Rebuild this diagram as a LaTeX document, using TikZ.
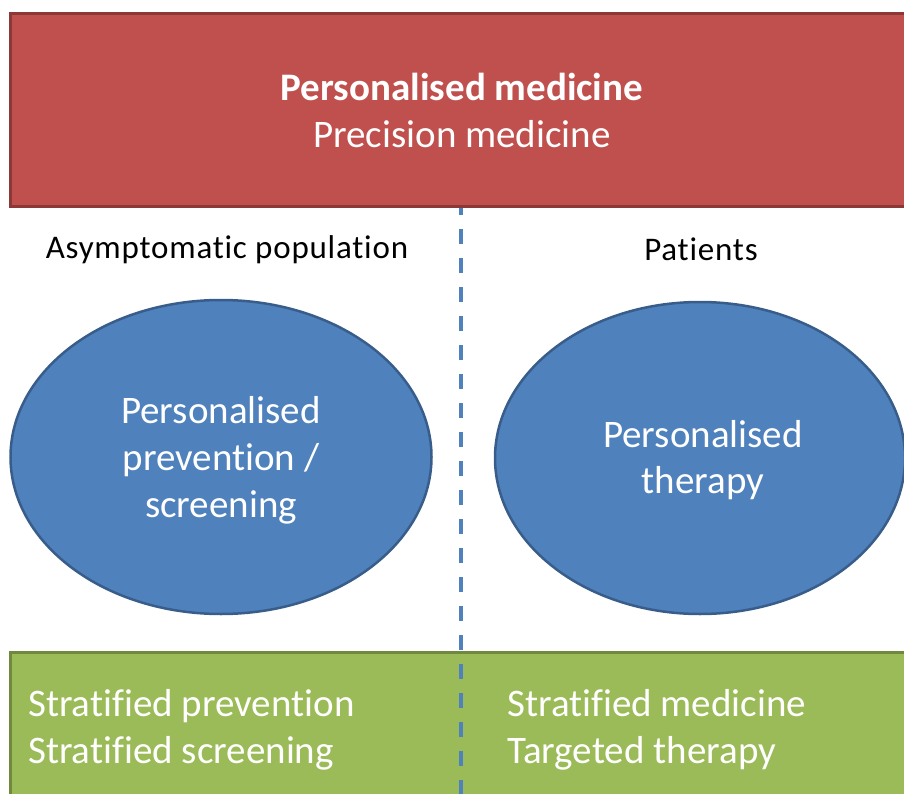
\documentclass[tikz,border=0pt]{standalone}
\usepackage{fontspec}
\setmainfont{Carlito}[Ligatures=CommonOff]
\usetikzlibrary{shapes.geometric}
\definecolor{redfill}{HTML}{C0504D}
\definecolor{redline}{HTML}{8C3836}
\definecolor{bluefill}{HTML}{4F81BD}
\definecolor{blueline}{HTML}{385D8A}
\definecolor{greenfill}{HTML}{9BBB59}
\definecolor{greenline}{HTML}{71893F}
\begin{document}
\begin{tikzpicture}[x=1pt,y=-1pt,
  bigfont/.style={font=\fontsize{39}{46.8}\selectfont},
  smallfont/.style={font=\fontsize{33}{40}\selectfont\addfontfeature{LetterSpace=2.4}},
  redbox/.style={draw=redline, fill=redfill, line width=3pt, minimum width=904pt, minimum height=193pt, inner sep=0pt, text=white, align=center, bigfont},
  greenbox/.style={draw=greenline, fill=greenfill, line width=3pt, minimum width=904pt, minimum height=158pt, inner sep=0pt},
  greentext/.style={text=white, align=left, anchor=west, inner sep=0pt, bigfont},
  blob/.style={ellipse, draw=blueline, fill=bluefill, line width=2.5pt, inner sep=0pt, text=white, align=center, bigfont},
  dashline/.style={draw=bluefill, line width=3.5pt, dash pattern=on 15pt off 14pt},
  headtext/.style={text=black, inner sep=0pt, smallfont}]
\useasboundingbox (0,0) rectangle (904,794);
\node[greenbox] (green) at (462,731) {};
\coordinate (dtop) at (461,200);
\coordinate (dbot) at (461,800);
\draw[dashline] (dtop) -- (dbot);
\node[redbox] (red) at (462,110.5) {\textbf{Personalised medicine}\\Precision medicine};
\node[headtext] (asym) at (227,249.5) {Asymptomatic population};
\node[headtext] (pat) at (701,249.5) {Patients};
\node[blob, minimum width=421pt, minimum height=314pt] (left) at (221,457) {};
\node[text=white, align=center, inner sep=0pt, bigfont] (lefttext) at (221,460.5) {Personalised\\prevention /\\screening};
\node[blob, minimum width=410pt, minimum height=312pt] (right) at (700,458) {};
\node[text=white, align=center, inner sep=0pt, bigfont] (righttext) at (703,460) {Personalised\\therapy};
\node[greentext] (gl) at (28,729.5) {Stratified prevention\\Stratified screening};
\node[greentext] (gr) at (507,729.5) {Stratified medicine\\Targeted therapy};
\end{tikzpicture}
\end{document}
